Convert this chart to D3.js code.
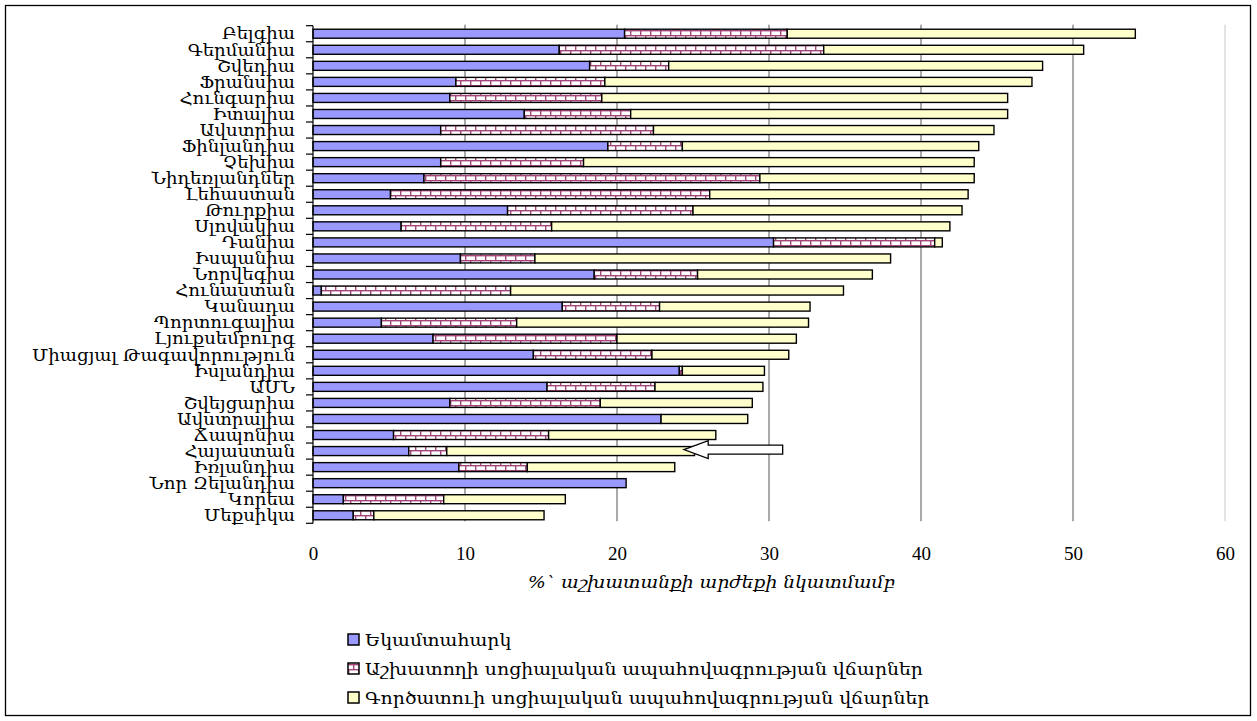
<!DOCTYPE html>
<html>
<head>
<meta charset="utf-8">
<script src="https://cdn.jsdelivr.net/npm/d3@7"></script>
<style>
	body { margin: 0; background: #fff; }
	svg { display: block; }
	text { fill: #000; }
</style>
</head>
<body>
<div id="bar_chart"></div>
<script>
// countries, top to bottom
var categories = ["Բելգիա", "Գերմանիա", "Շվեդիա", "Ֆրանսիա", "Հունգարիա", "Իտալիա", "Ավստրիա",
	"Ֆինլանդիա", "Չեխիա", "Նիդեռլանդներ", "Լեհաստան", "Թուրքիա", "Սլովակիա", "Դանիա", "Իսպանիա",
	"Նորվեգիա", "Հունաստան", "Կանադա", "Պորտուգալիա", "Լյուքսեմբուրգ", "Միացյալ Թագավորություն",
	"Իսլանդիա", "ԱՄՆ", "Շվեյցարիա", "Ավստրալիա", "Ճապոնիա", "Հայաստան", "Իռլանդիա",
	"Նոր Զելանդիա", "Կորեա", "Մեքսիկա"];

// income tax
var incomeTax = [20.5, 16.2, 18.2, 9.4, 9.0, 13.9, 8.4, 19.4, 8.4, 7.3, 5.1, 12.8, 5.8, 30.3, 9.7,
	18.5, 0.55, 16.4, 4.5, 7.9, 14.5, 24.1, 15.4, 9.0, 22.9, 5.3, 6.3, 9.6, 20.6, 2.0, 2.65];

// employee social security contributions
var employeeSSC = [10.7, 17.4, 5.2, 9.8, 10.0, 7.0, 14.0, 4.9, 9.4, 22.1, 21.0, 12.2, 9.9, 10.6, 4.9,
	6.8, 12.45, 6.4, 8.9, 12.1, 7.8, 0.2, 7.1, 9.9, 0, 10.2, 2.5, 4.5, 0, 6.6, 1.35];

// employer social security contributions
var employerSSC = [22.9, 17.1, 24.6, 28.1, 26.7, 24.8, 22.4, 19.5, 25.7, 14.1, 17.0, 17.7, 26.2, 0.5, 23.4,
	11.5, 21.9, 9.9, 19.2, 11.8, 9.0, 5.4, 7.1, 10.0, 5.7, 11.0, 16.3, 9.7, 0, 8.0, 11.2];

var xTicks = [0, 10, 20, 30, 40, 50, 60];

var seriesNames = ["Եկամտահարկ", "Աշխատողի սոցիալական ապահովագրության վճարներ", "Գործատուի սոցիալական ապահովագրության վճարներ"];
var axisTitle = "%` աշխատանքի արժեքի նկատմամբ";

// arrow pointing at Armenia: tip, head base, tail (axis units)
var arrowCountry = "Հայաստան";
var arrowStops = [24.4, 26.0, 30.9];

var width = 1257, height = 721;
var armFont = '"DejaVu Serif", "Liberation Serif", serif';
var numFont = '"Liberation Serif", "DejaVu Serif", serif';
var pinkLine = "#a3467a";

var rows = categories.map(function(c, i) {
	return {country: c, tax: incomeTax[i], emp: employeeSSC[i], er: employerSSC[i]};
});
var keys = ["tax", "emp", "er"];
var stacked = d3.stack().keys(keys)(rows);

var svg = d3.select("#bar_chart").append("svg")
	.attr("width", width)
	.attr("height", height);

// brick pattern for employee contributions
var defs = svg.append("defs");
var pat = defs.append("pattern")
	.attr("id", "brick")
	.attr("patternUnits", "userSpaceOnUse")
	.attr("width", 10)
	.attr("height", 10);
pat.append("rect").attr("width", 10).attr("height", 10).attr("fill", "#fff");
pat.append("rect").attr("x", 0).attr("y", 0).attr("width", 10).attr("height", 1.4).attr("fill", pinkLine);
pat.append("rect").attr("x", 0).attr("y", 5).attr("width", 10).attr("height", 1.4).attr("fill", pinkLine);
pat.append("rect").attr("x", 0).attr("y", 0).attr("width", 1.4).attr("height", 5).attr("fill", pinkLine);
pat.append("rect").attr("x", 5).attr("y", 5).attr("width", 1.4).attr("height", 5).attr("fill", pinkLine);

var fills = ["#9999ff", "url(#brick)", "#ffffcc"];

// outer frame
svg.append("rect")
	.attr("x", 5.5).attr("y", 5.5)
	.attr("width", 1245).attr("height", 710)
	.attr("fill", "none")
	.attr("stroke", "#000")
	.attr("stroke-width", 1.3);

var plotTop = 25.7, plotBottom = 523.3;

var x = d3.scaleLinear()
	.domain([0, 60])
	.range([313, 1225]);

var y = d3.scaleBand()
	.domain(categories)
	.range([plotTop, plotBottom])
	.paddingInner(0.44)
	.paddingOuter(0.22);

// vertical gridlines
svg.append("g")
	.selectAll("line")
	.data(xTicks.filter(function(d) { return d > 0; }))
	.enter().append("line")
	.attr("x1", function(d) { return x(d); })
	.attr("x2", function(d) { return x(d); })
	.attr("y1", plotTop - 1)
	.attr("y2", plotBottom - 2)
	.attr("stroke", function(d) { return d === 60 ? "#c8c8c8" : "#555"; })
	.attr("stroke-width", 1);

// bars
svg.append("g")
	.selectAll("g")
	.data(stacked)
	.enter().append("g")
	.attr("fill", function(d, i) { return fills[i]; })
	.selectAll("rect")
	.data(function(d) { return d.filter(function(s) { return s[1] - s[0] > 0; }); })
	.enter().append("rect")
	.attr("x", function(d) { return x(d[0]); })
	.attr("y", function(d) { return y(d.data.country); })
	.attr("width", function(d) { return x(d[1]) - x(d[0]); })
	.attr("height", y.bandwidth())
	.attr("stroke", "#000")
	.attr("stroke-width", 1.4);

// y axis with ticks between the categories
var step = y.step();
var yAxis = svg.append("g").attr("class", "axis");
yAxis.append("line")
	.attr("x1", x(0)).attr("x2", x(0))
	.attr("y1", plotTop).attr("y2", plotBottom)
	.attr("stroke", "#000").attr("stroke-width", 1.2);
yAxis.selectAll(".tk")
	.data(d3.range(categories.length + 1))
	.enter().append("line")
	.attr("class", "tk")
	.attr("x1", x(0) - 7).attr("x2", x(0))
	.attr("y1", function(i) { return plotTop + i * step; })
	.attr("y2", function(i) { return plotTop + i * step; })
	.attr("stroke", "#000").attr("stroke-width", 1.2);

var labels = svg.append("g")
	.attr("transform", "translate(" + x(0) + ",0)")
	.call(d3.axisLeft(y).tickSize(0).tickPadding(18));
labels.select(".domain").remove();
labels.selectAll("text")
	.attr("font-family", armFont)
	.attr("font-size", "16px")
	.attr("dy", "0.36em");

// x axis labels
var xAxis = svg.append("g")
	.attr("transform", "translate(0," + 546 + ")")
	.call(d3.axisBottom(x).tickValues(xTicks).tickSize(0).tickPadding(0).tickFormat(d3.format("d")));
xAxis.select(".domain").remove();
xAxis.selectAll("text")
	.attr("font-family", numFont)
	.attr("font-size", "19px");

var title = svg.append("text")
	.attr("x", 528)
	.attr("y", 588)
	.attr("font-family", armFont)
	.attr("font-style", "italic")
	.attr("font-size", "16px")
	.text(axisTitle);

// arrow annotation
var ay = y(arrowCountry) + y.bandwidth() / 2 - 1.5;
var arrowPts = [
	[x(arrowStops[0]), ay],
	[x(arrowStops[1]), ay - 9],
	[x(arrowStops[1]), ay - 4.5],
	[x(arrowStops[2]), ay - 4.5],
	[x(arrowStops[2]), ay + 4.5],
	[x(arrowStops[1]), ay + 4.5],
	[x(arrowStops[1]), ay + 9]
];
svg.append("path")
	.attr("d", d3.line()(arrowPts) + "Z")
	.attr("fill", "#fff")
	.attr("stroke", "#000")
	.attr("stroke-width", 1.3);

// legend
var legendY = [640, 669, 698];
var legend = svg.append("g")
	.selectAll("g")
	.data(seriesNames)
	.enter().append("g")
	.attr("transform", function(d, i) { return "translate(348," + legendY[i] + ")"; });
legend.append("rect")
	.attr("x", 0).attr("y", -6)
	.attr("width", 11).attr("height", 11)
	.attr("fill", function(d, i) { return fills[i]; })
	.attr("stroke", "#000")
	.attr("stroke-width", 1.5);
var legendText = legend.append("text")
	.attr("x", 17)
	.attr("dy", "0.36em")
	.attr("font-family", armFont)
	.attr("font-size", "17px")
	.text(function(d) { return d; });

// squeeze texts horizontally to match the original widths
function fit(sel, refIndex, target) {
	var nodes = sel.nodes();
	var w = nodes[refIndex].getComputedTextLength();
	var k = target / w;
	sel.each(function() {
		var len = this.getComputedTextLength();
		d3.select(this).attr("textLength", len * k).attr("lengthAdjust", "spacingAndGlyphs");
	});
}
fit(labels.selectAll("text"), categories.indexOf("Միացյալ Թագավորություն"), 263);
fit(legendText, 1, 558);
fit(title, 0, 367);
</script>
</body>
</html>
